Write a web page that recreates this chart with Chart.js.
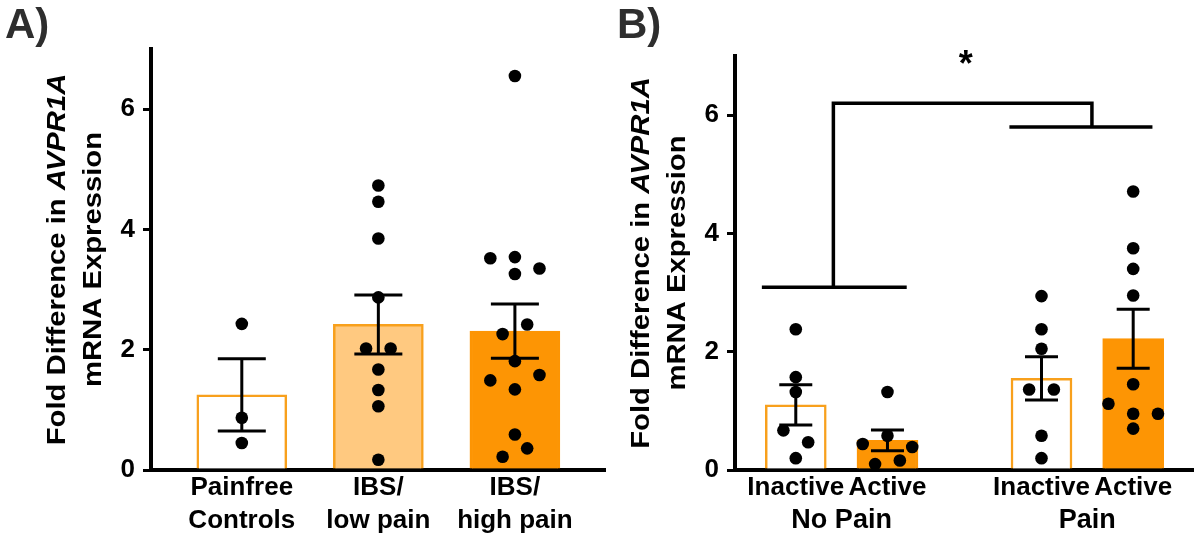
<!DOCTYPE html>
<html>
<head>
<meta charset="utf-8">
<title>AVPR1A mRNA expression</title>
<script src="https://cdn.jsdelivr.net/npm/chart.js@4.4.0/dist/chart.umd.min.js"></script>
<style>
    body { margin: 0; background: #fff; }
    #wrap { position: relative; width: 1200px; height: 539px; overflow: hidden; }
    .panel { position: absolute; top: 0; height: 539px; }
    #panelA { left: 0; width: 612px; }
    #panelB { left: 612px; width: 588px; }
</style>
</head>
<body>
<div id="wrap">
    <div class="panel" id="panelA"><canvas id="chartA"></canvas></div>
    <div class="panel" id="panelB"><canvas id="chartB"></canvas></div>
</div>
<script>

/* -------------------------
   DATA
--------------------------*/

const yTicks = [0, 2, 4, 6];
const yMax = 7;

const titleLine1 = "Fold Difference in ";
const titleGene = "AVPR1A";
const titleLine2 = "mRNA Expression";

// Panel A
const groupsA = [["Painfree", "Controls"], ["IBS/", "low pain"], ["IBS/", "high pain"]];
const meanA = [1.25, 2.42, 2.31];
const semA = [0.60, 0.49, 0.45];
const pointsA = [
    [2.43, 0.87, 0.45],
    [4.73, 4.46, 3.85, 2.87, 2.02, 2.02, 1.67, 1.33, 1.06, 0.17],
    [6.55, 3.52, 3.54, 3.26, 3.35, 2.42, 2.26, 1.81, 1.58, 1.49, 1.34, 0.59, 0.36, 0.22]
];

// Panel B
const barsB = ["Inactive", "Active", "Inactive", "Active"];
const painGroupsB = ["No Pain", "Pain"];
const meanB = [1.10, 0.50, 1.55, 2.22];
const semB = [0.34, 0.175, 0.365, 0.50];
const pointsB = [
    [2.38, 1.57, 1.32, 0.67, 0.47, 0.20],
    [1.32, 0.58, 0.44, 0.39, 0.16, 0.10],
    [2.94, 2.38, 2.05, 1.36, 1.36, 0.58, 0.20],
    [4.71, 3.75, 3.40, 2.95, 1.45, 1.12, 0.95, 0.95, 0.70]
];

// significance brackets (y levels)
const bracketNoPain = 3.09;
const bracketPain = 5.80;
const bracketTop = 6.20;
const sigLabel = "*";

/* -------------------------
   LAYOUT
--------------------------*/

const slotsA = [1, 2, 3];
const slotsB = [1, 2, 3.68, 4.68];

// horizontal jitter of dots, in steps
const jitterA = [
    [0, 0, 0],
    [0, 0, 0, 0, -1, 1, 0, 0, 0, 0],
    [0, -2, 0, 0, 2, 1, -1, 0, 2, -2, 0, 0, 1, -1]
];
const jitterB = [
    [0, 0, 0, -1, 1, 0],
    [0, 0, -2, 2, 1, -1],
    [0, 0, 0, -1, 1, 0, 0],
    [0, 0, 0, 0, 0, -2, 0, 2, 0]
];

const ORANGE = "#fd9504";
const LIGHT = "#ffc980";
const EDGE = "#f8a01c";
const FONT = "'Liberation Sans', Arial, Helvetica, sans-serif";

/* -------------------------
   DRAWING PLUGIN
--------------------------*/

function drawTitle(ctx, cx, cy, parts, size, stretch) {
    ctx.save();
    ctx.translate(cx, cy);
    ctx.rotate(-Math.PI / 2);
    ctx.scale(stretch, 1);
    ctx.fillStyle = "#000";
    ctx.textBaseline = "middle";
    ctx.textAlign = "left";

    let total = 0;
    parts.forEach(p => {
        ctx.font = (p.italic ? "italic " : "") + "bold " + size + "px " + FONT;
        p.w = ctx.measureText(p.text).width;
        total += p.w;
    });

    let x = -total / 2;
    parts.forEach(p => {
        ctx.font = (p.italic ? "italic " : "") + "bold " + size + "px " + FONT;
        ctx.fillText(p.text, x, 0);
        x += p.w;
    });
    ctx.restore();
}

const panelDecor = {
    id: "panelDecor",

    afterDatasetDraw(chart, args, opts) {
        if (args.meta.type !== "bar") return;

        const { ctx, scales: { x, y } } = chart;
        ctx.save();
        ctx.strokeStyle = "#000";
        ctx.lineWidth = 3;

        opts.means.forEach((m, i) => {
            const px = x.getPixelForValue(opts.slots[i]);
            const top = y.getPixelForValue(m + opts.sems[i]);
            const bot = y.getPixelForValue(m - opts.sems[i]);
            ctx.beginPath();
            ctx.moveTo(px, top);
            ctx.lineTo(px, bot);
            ctx.moveTo(px - opts.cap, top);
            ctx.lineTo(px + opts.cap, top);
            ctx.moveTo(px - opts.cap, bot);
            ctx.lineTo(px + opts.cap, bot);
            ctx.stroke();
        });
        ctx.restore();
    },

    afterDraw(chart, args, opts) {
        const { ctx, chartArea, scales: { x, y } } = chart;

        // panel letter
        ctx.save();
        ctx.fillStyle = "#2e2e2e";
        ctx.font = "bold 42px " + FONT;
        ctx.textBaseline = "alphabetic";
        ctx.fillText(opts.letter, 5, 38);
        ctx.restore();

        // y axis title
        const cy = (chartArea.top + chartArea.bottom) / 2;
        drawTitle(ctx, chartArea.left - 93, cy,
            [{ text: titleLine1 }, { text: titleGene, italic: true }], 25, 1.17);
        drawTitle(ctx, chartArea.left - 57, cy,
            [{ text: titleLine2 }], 25, 1.17);

        if (!opts.brackets) return;

        // group labels under the bars
        ctx.save();
        ctx.fillStyle = "#000";
        ctx.font = "bold 27px " + FONT;
        ctx.textAlign = "center";
        ctx.textBaseline = "middle";
        painGroupsB.forEach((g, i) => {
            const mid = (opts.slots[2 * i] + opts.slots[2 * i + 1]) / 2;
            ctx.fillText(g, x.getPixelForValue(mid), chartArea.bottom + 51);
        });
        ctx.restore();

        // significance brackets
        const b = opts.brackets;
        const X = v => x.getPixelForValue(v);
        const Y = v => y.getPixelForValue(v);

        ctx.save();
        ctx.strokeStyle = "#000";
        ctx.lineWidth = 3.5;
        ctx.lineJoin = "miter";

        ctx.beginPath();
        ctx.moveTo(X(b.noPainSpan[0]), Y(bracketNoPain));
        ctx.lineTo(X(b.noPainSpan[1]), Y(bracketNoPain));
        ctx.moveTo(X(b.painSpan[0]), Y(bracketPain));
        ctx.lineTo(X(b.painSpan[1]), Y(bracketPain));
        ctx.stroke();

        ctx.beginPath();
        ctx.moveTo(X(b.noPainDrop), Y(bracketNoPain));
        ctx.lineTo(X(b.noPainDrop), Y(bracketTop));
        ctx.lineTo(X(b.painDrop), Y(bracketTop));
        ctx.lineTo(X(b.painDrop), Y(bracketPain));
        ctx.stroke();

        ctx.fillStyle = "#000";
        ctx.font = "bold 36px " + FONT;
        ctx.textAlign = "center";
        ctx.textBaseline = "middle";
        ctx.fillText(sigLabel, X((b.noPainDrop + b.painDrop) / 2) + 3, Y(6.83));
        ctx.restore();
    }
};

/* -------------------------
   CHART BUILDER
--------------------------*/

function dotData(points, jitter, slots, step) {
    const out = [];
    points.forEach((grp, i) => {
        grp.forEach((v, j) => {
            out.push({ x: slots[i] + jitter[i][j] * step, y: v });
        });
    });
    return out;
}

function buildChart(id, cfg) {

    const tickFont = { family: FONT, size: 26, weight: "bold", lineHeight: 1.25 };

    return new Chart(document.getElementById(id), {
        type: "bar",
        data: {
            datasets: [
                {
                    type: "scatter",
                    data: dotData(cfg.points, cfg.jitter, cfg.slots, cfg.step),
                    backgroundColor: "#000",
                    borderWidth: 0,
                    pointRadius: 6.3,
                    pointHoverRadius: 6.3,
                    order: 1,
                    clip: false
                },
                {
                    type: "bar",
                    data: cfg.means.map((m, i) => ({ x: cfg.slots[i], y: m })),
                    backgroundColor: cfg.fills,
                    borderColor: cfg.edges,
                    borderWidth: 2.5,
                    borderSkipped: "start",
                    barThickness: cfg.barWidth,
                    order: 2
                }
            ]
        },
        options: {
            responsive: true,
            maintainAspectRatio: false,
            animation: false,
            events: [],
            layout: { padding: { top: cfg.top, right: cfg.right, bottom: 0, left: 0 } },
            plugins: {
                legend: { display: false },
                tooltip: { enabled: false },
                panelDecor: {
                    letter: cfg.letter,
                    means: cfg.means,
                    sems: cfg.sems,
                    slots: cfg.slots,
                    cap: cfg.cap,
                    brackets: cfg.brackets
                }
            },
            scales: {
                x: {
                    type: "linear",
                    offset: false,
                    min: cfg.xMin,
                    max: cfg.xMax,
                    grid: { display: false, drawTicks: false, offset: false },
                    border: { display: true, color: "#000", width: 4 },
                    afterBuildTicks: axis => {
                        axis.ticks = cfg.slots.map(v => ({ value: v }));
                    },
                    afterFit: scale => { scale.height = 69; },
                    ticks: {
                        autoSkip: false,
                        maxRotation: 0,
                        minRotation: 0,
                        padding: 2,
                        color: "#000",
                        font: tickFont,
                        callback: value => cfg.labels[cfg.slots.indexOf(value)]
                    }
                },
                y: {
                    min: 0,
                    max: yMax,
                    grid: {
                        display: true,
                        drawOnChartArea: false,
                        drawTicks: true,
                        tickLength: 8,
                        color: "#000",
                        lineWidth: 3
                    },
                    border: { display: true, color: "#000", width: 4 },
                    afterBuildTicks: axis => {
                        axis.ticks = yTicks.map(v => ({ value: v }));
                    },
                    afterFit: scale => { scale.width = cfg.yWidth; },
                    ticks: {
                        padding: 8,
                        color: "#000",
                        font: tickFont
                    }
                }
            }
        },
        plugins: [panelDecor]
    });
}

/* -------------------------
   INIT
--------------------------*/

buildChart("chartA", {
    letter: "A)",
    labels: groupsA,
    means: meanA,
    sems: semA,
    points: pointsA,
    jitter: jitterA,
    slots: slotsA,
    step: 0.09,
    xMin: 0.335,
    xMax: 3.665,
    fills: ["#ffffff", LIGHT, ORANGE],
    edges: [EDGE, EDGE, ORANGE],
    barWidth: 90,
    cap: 24,
    top: 49,
    right: 5,
    yWidth: 151
});

buildChart("chartB", {
    letter: "B)",
    labels: barsB,
    means: meanB,
    sems: semB,
    points: pointsB,
    jitter: jitterB,
    slots: slotsB,
    step: 0.135,
    xMin: 0.337,
    xMax: 5.34,
    fills: ["#ffffff", ORANGE, "#ffffff", ORANGE],
    edges: [EDGE, ORANGE, EDGE, ORANGE],
    barWidth: 61,
    cap: 16.5,
    top: 56,
    right: 5,
    yWidth: 123,
    brackets: {
        noPainSpan: [0.63, 2.21],
        noPainDrop: 1.41,
        painSpan: [3.33, 4.89],
        painDrop: 4.23
    }
});

</script>
</body>
</html>
